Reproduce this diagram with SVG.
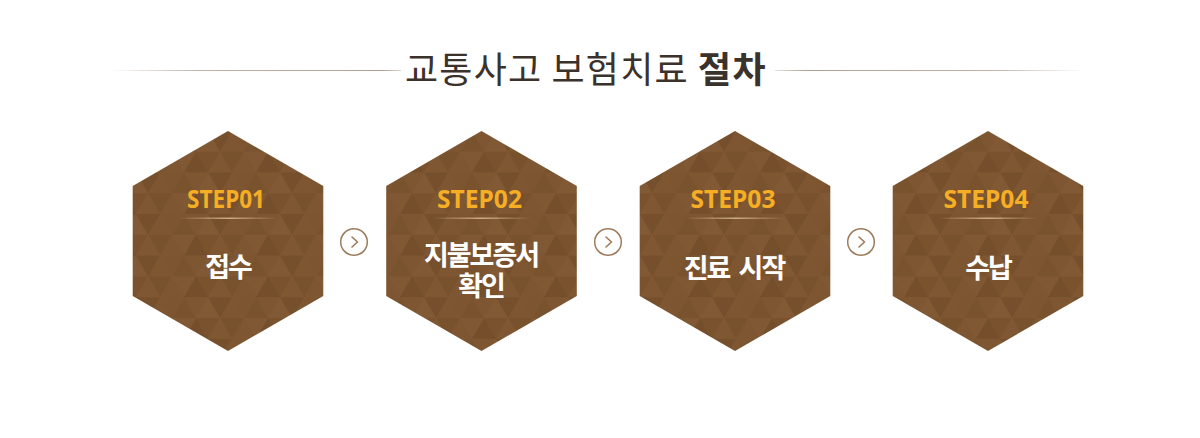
<svg xmlns="http://www.w3.org/2000/svg" width="1200" height="438" viewBox="0 0 1200 438">
<defs>
<style>
.title{font-family:"Noto Sans CJK KR","Noto Sans",sans-serif;font-size:36px;fill:#3b322b;letter-spacing:1.2px;}
.step{font-family:"Noto Sans","Liberation Sans",sans-serif;font-weight:bold;font-size:25px;fill:#f6ae24;text-anchor:middle;}
.lbl{font-family:"Noto Sans CJK KR","Noto Sans",sans-serif;font-weight:bold;font-size:27px;fill:#ffffff;text-anchor:middle;letter-spacing:-2px;word-spacing:5px;}
.hex{fill:url(#tri);}
.arr circle{fill:#ffffff;stroke:#9c7b5b;stroke-width:1.5;}
.arr polyline{fill:none;stroke:#9c7b5b;stroke-width:1.6;stroke-linecap:round;stroke-linejoin:round;}
</style>
<linearGradient id="lineL" x1="0" x2="1" y1="0" y2="0">
<stop offset="0" stop-color="#b3a090" stop-opacity="0"/>
<stop offset="0.3" stop-color="#b3a090" stop-opacity="0.8"/>
<stop offset="0.94" stop-color="#b3a090" stop-opacity="1"/>
<stop offset="1" stop-color="#b3a090" stop-opacity="0.4"/>
</linearGradient>
<linearGradient id="lineR" x1="1" x2="0" y1="0" y2="0">
<stop offset="0" stop-color="#b3a090" stop-opacity="0"/>
<stop offset="0.3" stop-color="#b3a090" stop-opacity="0.8"/>
<stop offset="0.9" stop-color="#b3a090" stop-opacity="1"/>
<stop offset="1" stop-color="#b3a090" stop-opacity="0.3"/>
</linearGradient>
<linearGradient id="div" x1="0" x2="1" y1="0" y2="0">
<stop offset="0" stop-color="#e8c9a0" stop-opacity="0"/>
<stop offset="0.5" stop-color="#e8c9a0" stop-opacity="0.75"/>
<stop offset="1" stop-color="#e8c9a0" stop-opacity="0"/>
</linearGradient>
<pattern id="tri" patternUnits="userSpaceOnUse" width="72" height="41.6" x="4" y="6">
<rect width="72" height="41.6" fill="#7b542f"/>
<polygon points="12,0 0,20.8 24,20.8" fill="#7e5732"/>
<polygon points="36,0 24,20.8 48,20.8" fill="#79522e"/>
<polygon points="60,0 48,20.8 72,20.8" fill="#815a35"/>
<polygon points="12,0 36,0 24,20.8" fill="#7d5631"/>
<polygon points="36,0 60,0 48,20.8" fill="#7e5732"/>
<polygon points="60,0 84,0 72,20.8" fill="#76502c"/>
<polygon points="-12,0 12,0 0,20.8" fill="#76502c"/>
<polygon points="0,20.8 24,20.8 12,41.6" fill="#78512d"/>
<polygon points="24,20.8 48,20.8 36,41.6" fill="#805934"/>
<polygon points="48,20.8 72,20.8 60,41.6" fill="#7a532e"/>
<polygon points="24,20.8 12,41.6 36,41.6" fill="#7e5732"/>
<polygon points="48,20.8 36,41.6 60,41.6" fill="#754f2b"/>
<polygon points="72,20.8 60,41.6 84,41.6" fill="#7f5833"/>
<polygon points="0,20.8 -12,41.6 12,41.6" fill="#7f5833"/>
</pattern>
</defs>

<g id="title">
<rect x="110" y="70" width="291" height="1" fill="url(#lineL)"/>
<rect x="775" y="70" width="310" height="1" fill="url(#lineR)"/>
<text class="title" x="405" y="83">교통사고 보험치료 <tspan font-weight="bold">절차</tspan></text>
</g>

<g id="connectors">
<g class="arr" id="arrow1"><circle cx="354" cy="242" r="13.3"/><polyline points="352,237 357.5,242 352,247"/></g>
<g class="arr" id="arrow2"><circle cx="608" cy="242" r="13.3"/><polyline points="606,237 611.5,242 606,247"/></g>
<g class="arr" id="arrow3"><circle cx="861" cy="242" r="13.3"/><polyline points="859,237 864.5,242 859,247"/></g>
</g>

<g id="step1">
<polygon class="hex" points="228,131 323.3,186 323.3,296 228,351 132.7,296 132.7,186"/>
<text class="step" x="226" y="208" textLength="78" lengthAdjust="spacingAndGlyphs">STEP01</text>
<rect x="178" y="217.5" width="100" height="1.5" fill="url(#div)"/>
<text class="lbl" x="228" y="277">접수</text>
</g>

<g id="step2">
<polygon class="hex" points="481.5,131 576.8,186 576.8,296 481.5,351 386.2,296 386.2,186"/>
<text class="step" x="479.5" y="208" textLength="85" lengthAdjust="spacingAndGlyphs">STEP02</text>
<rect x="431.5" y="217.5" width="100" height="1.5" fill="url(#div)"/>
<text class="lbl" x="481" y="265" font-size="25">지불보증서</text>
<text class="lbl" x="481" y="296" font-size="25">확인</text>
</g>

<g id="step3">
<polygon class="hex" points="735,131 830.3,186 830.3,296 735,351 639.7,296 639.7,186"/>
<text class="step" x="733" y="208" textLength="85" lengthAdjust="spacingAndGlyphs">STEP03</text>
<rect x="685" y="217.5" width="100" height="1.5" fill="url(#div)"/>
<text class="lbl" x="734" y="278">진료 시작</text>
</g>

<g id="step4">
<polygon class="hex" points="988,131 1083.3,186 1083.3,296 988,351 892.7,296 892.7,186"/>
<text class="step" x="986" y="208" textLength="85" lengthAdjust="spacingAndGlyphs">STEP04</text>
<rect x="938" y="217.5" width="100" height="1.5" fill="url(#div)"/>
<text class="lbl" x="988" y="278">수납</text>
</g>
</svg>
